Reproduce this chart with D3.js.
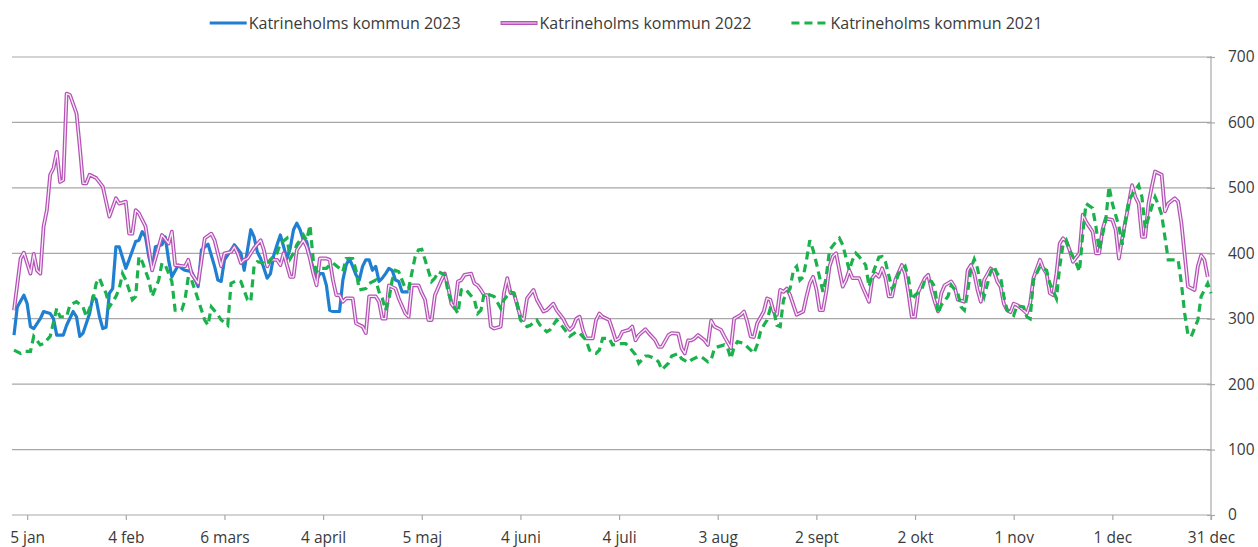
<!DOCTYPE html>
<html>
<head>
<meta charset="utf-8">
<script src="https://cdn.jsdelivr.net/npm/d3@7"></script>
<style>
  body { margin: 0; background: #fff; }
  text { font-family: "Open Sans", sans-serif; fill: #3a3a3a; }
</style>
</head>
<body>
<svg id="chart" width="1258" height="547"></svg>
<script>
// dag på året, antal
var kommun2023 = [[1,275],[2,318],[4,336],[5,323],[6,288],[7,285],[9,300],[10,311],[12,308],[13,300],[14,275],[16,275],[17,290],[19,311],[20,303],[21,273],[22,278],[24,308],[25,334],[26,329],[27,303],[28,285],[29,287],[30,339],[31,346],[32,410],[33,410],[35,377],[36,390],[38,418],[39,420],[40,433],[41,425],[42,395],[43,374],[44,410],[46,413],[47,425],[48,390],[49,364],[51,382],[52,377],[53,374],[55,372],[57,349],[58,405],[60,414],[62,380],[63,359],[64,357],[65,390],[67,405],[68,413],[70,400],[71,374],[72,405],[73,436],[74,425],[75,402],[76,392],[77,377],[78,362],[79,369],[80,397],[81,413],[82,428],[83,410],[84,392],[85,408],[86,436],[87,446],[88,436],[89,420],[90,418],[91,395],[93,359],[94,369],[95,369],[96,351],[97,313],[98,311],[100,311],[101,359],[102,382],[103,392],[104,380],[105,367],[106,359],[107,380],[108,390],[109,390],[110,374],[111,380],[112,357],[113,362],[114,369],[115,377],[116,374],[117,359],[118,357],[119,341],[121,341]];

var kommun2022 = [[1,313],[3,392],[4,401],[6,369],[7,399],[8,374],[9,369],[10,441],[11,466],[12,520],[13,530],[14,555],[15,509],[16,512],[17,644],[18,642],[20,614],[21,563],[22,507],[23,507],[24,520],[26,515],[28,502],[30,456],[32,484],[33,476],[35,479],[36,430],[37,430],[38,466],[39,461],[41,441],[43,374],[45,410],[46,428],[48,415],[49,433],[50,382],[53,380],[54,390],[55,369],[57,354],[59,423],[61,430],[62,420],[64,380],[65,400],[67,402],[68,410],[69,400],[70,385],[71,390],[72,392],[74,408],[76,420],[77,405],[78,380],[79,390],[81,390],[82,382],[83,400],[85,364],[86,364],[87,405],[89,420],[90,410],[91,392],[92,369],[93,351],[94,392],[96,392],[97,390],[98,359],[99,336],[100,336],[101,326],[102,331],[104,331],[105,293],[107,288],[108,278],[109,334],[111,334],[112,326],[113,300],[114,300],[115,351],[117,346],[118,331],[120,308],[121,303],[122,351],[124,351],[125,339],[126,329],[127,298],[128,298],[129,336],[131,359],[132,369],[133,349],[134,323],[135,316],[136,357],[137,359],[138,367],[140,369],[141,354],[142,351],[143,344],[144,336],[145,336],[146,288],[147,285],[149,288],[150,339],[151,362],[152,339],[153,339],[155,303],[156,298],[157,331],[159,344],[160,329],[162,311],[163,313],[165,323],[166,313],[168,300],[169,290],[170,283],[171,288],[172,300],[173,303],[174,283],[175,270],[177,270],[178,298],[179,308],[180,303],[182,298],[183,283],[184,267],[185,270],[186,280],[188,283],[189,288],[190,267],[191,275],[193,284],[194,278],[196,267],[197,257],[198,257],[200,275],[201,278],[203,277],[204,255],[205,247],[206,267],[207,267],[208,270],[209,275],[211,267],[212,260],[213,297],[214,288],[216,283],[217,273],[219,255],[220,300],[222,306],[223,311],[224,295],[225,273],[226,272],[227,293],[229,311],[230,331],[231,329],[232,311],[233,306],[234,344],[235,341],[236,346],[237,336],[239,306],[241,311],[242,334],[243,354],[244,364],[245,345],[246,313],[247,313],[248,341],[249,380],[250,395],[251,400],[252,374],[253,349],[254,359],[255,374],[256,362],[258,362],[259,349],[261,326],[262,362],[263,369],[264,364],[265,377],[266,362],[267,334],[268,334],[269,359],[271,382],[272,369],[273,339],[274,303],[275,303],[276,341],[278,362],[279,367],[280,344],[281,326],[282,311],[283,339],[284,351],[286,357],[287,349],[288,329],[290,326],[291,374],[292,382],[293,369],[294,344],[295,326],[296,359],[298,377],[299,372],[300,357],[301,349],[302,323],[303,313],[304,310],[305,323],[306,321],[308,313],[309,308],[310,323],[311,362],[313,390],[314,377],[315,369],[316,339],[317,336],[318,369],[319,415],[320,423],[321,418],[322,405],[323,387],[325,400],[326,459],[327,448],[329,433],[330,400],[331,400],[332,436],[333,453],[335,451],[336,436],[337,392],[338,423],[340,476],[341,504],[342,486],[343,476],[344,425],[345,425],[346,476],[347,502],[348,525],[350,520],[351,464],[352,476],[354,484],[355,479],[356,446],[358,349],[360,344],[361,380],[362,397],[363,390],[364,364]];

var kommun2021 = [[1,252],[3,247],[4,250],[6,250],[7,273],[9,260],[10,262],[12,273],[14,316],[15,303],[17,303],[18,321],[20,326],[22,318],[23,303],[25,329],[26,354],[27,362],[28,349],[29,339],[30,318],[32,334],[33,346],[34,369],[35,359],[37,329],[38,334],[39,395],[40,387],[42,359],[43,334],[45,359],[46,385],[47,382],[49,357],[50,313],[52,313],[53,329],[54,364],[55,359],[57,329],[59,298],[60,290],[61,318],[63,306],[64,298],[66,290],[67,354],[69,359],[70,357],[72,329],[73,326],[74,380],[75,387],[77,385],[78,382],[80,397],[81,400],[82,415],[84,423],[85,392],[86,400],[87,413],[89,428],[90,420],[91,443],[92,390],[93,372],[94,377],[96,377],[97,382],[98,385],[100,377],[101,372],[102,392],[104,392],[105,374],[106,344],[108,346],[109,354],[111,359],[112,341],[113,331],[114,313],[115,329],[116,359],[117,374],[118,372],[120,346],[121,346],[123,395],[124,405],[125,406],[126,390],[128,357],[129,362],[130,372],[132,367],[133,341],[134,326],[136,308],[137,344],[138,346],[139,341],[141,329],[142,308],[143,313],[144,339],[146,336],[147,334],[149,316],[150,329],[152,341],[153,339],[154,323],[155,298],[157,288],[158,290],[160,298],[161,290],[163,280],[164,283],[166,298],[167,293],[169,280],[170,273],[172,280],[173,278],[175,267],[176,252],[178,247],[179,252],[180,270],[182,270],[183,260],[185,262],[187,262],[188,257],[190,245],[191,232],[193,243],[194,243],[196,239],[197,234],[198,222],[200,232],[201,243],[203,247],[204,239],[206,233],[207,237],[209,242],[210,242],[212,234],[213,237],[214,255],[215,257],[217,260],[218,255],[219,239],[220,257],[221,265],[223,262],[224,257],[226,247],[227,260],[228,280],[229,290],[230,298],[231,316],[232,313],[233,290],[234,288],[235,329],[236,339],[237,346],[238,374],[239,380],[240,359],[241,364],[242,390],[243,420],[244,405],[245,385],[247,341],[248,364],[249,405],[251,418],[252,423],[253,413],[255,374],[256,390],[257,400],[258,395],[260,382],[261,349],[262,367],[264,394],[265,395],[266,387],[268,346],[269,354],[270,369],[272,380],[273,362],[274,329],[275,336],[277,344],[278,359],[280,357],[281,349],[282,308],[283,321],[285,334],[286,351],[288,339],[289,318],[290,313],[291,341],[292,377],[293,391],[294,377],[295,351],[296,334],[298,372],[299,380],[300,369],[301,364],[302,334],[303,313],[305,305],[306,320],[308,318],[309,303],[310,300],[311,359],[313,380],[315,374],[316,354],[318,331],[319,380],[320,413],[321,420],[322,405],[324,385],[325,372],[326,430],[327,476],[329,469],[330,441],[331,405],[333,451],[334,502],[335,476],[337,441],[338,413],[339,451],[340,481],[342,497],[343,504],[344,486],[345,438],[347,471],[348,486],[349,474],[350,459],[352,390],[354,390],[355,390],[356,354],[357,308],[358,275],[359,273],[361,298],[362,334],[364,354],[365,339]];

var seriesNames = ["Katrineholms kommun 2023", "Katrineholms kommun 2022", "Katrineholms kommun 2021"];
var tickDays = [5, 35, 65, 95, 125, 155, 185, 215, 245, 275, 305, 335, 365];
var tickLabels = ["5 jan", "4 feb", "6 mars", "4 april", "5 maj", "4 juni", "4 juli", "3 aug", "2 sept", "2 okt", "1 nov", "1 dec", "31 dec"];
var yTicks = [0, 100, 200, 300, 400, 500, 600, 700];

var blue = "#1f7fd1", purple = "#b552b5", green = "#1bb14c", gridColor = "#a8a8a8";

var plotLeft = 12, plotRight = 1211, plotTop = 57, plotBottom = 515;

var x = d3.scaleLinear().domain([1, 365]).range([14, 1211]);
var y = d3.scaleLinear().domain([0, 700]).range([plotBottom, plotTop]);

var svg = d3.select("#chart");

// stödlinjer
svg.append("g").selectAll("line")
    .data(yTicks)
    .enter().append("line")
    .attr("x1", plotLeft).attr("x2", plotRight)
    .attr("y1", function(d) { return y(d); })
    .attr("y2", function(d) { return y(d); })
    .attr("stroke", gridColor)
    .attr("stroke-width", 1.2);

// x-axel
var xAxis = svg.append("g")
    .attr("transform", "translate(0," + plotBottom + ")")
    .call(d3.axisBottom(x).tickValues(tickDays)
        .tickFormat(function(d, i) { return tickLabels[i]; })
        .tickSize(5).tickPadding(12));
xAxis.select(".domain").remove();
xAxis.selectAll("line").attr("stroke", gridColor).attr("stroke-width", 1.2);
xAxis.selectAll("text").style("font-size", "15.5px").attr("fill", "#3a3a3a");

// y-axel till höger
var yAxis = svg.append("g")
    .attr("transform", "translate(" + plotRight + ",0)")
    .call(d3.axisRight(y).tickValues(yTicks).tickSize(4).tickPadding(13));
yAxis.select(".domain").remove();
yAxis.selectAll("line").attr("x1", -4).attr("stroke", gridColor).attr("stroke-width", 1.2);
yAxis.selectAll("text").style("font-size", "15.5px").attr("fill", "#3a3a3a");
svg.append("line")
    .attr("x1", plotRight).attr("x2", plotRight)
    .attr("y1", plotTop - 1).attr("y2", plotBottom + 5)
    .attr("stroke", gridColor).attr("stroke-width", 1.2);

var line = d3.line()
    .x(function(d) { return x(d[0]); })
    .y(function(d) { return y(d[1]); });

svg.append("path").datum(kommun2023)
    .attr("d", line).attr("fill", "none")
    .attr("stroke", blue).attr("stroke-width", 3.2)
    .attr("stroke-linejoin", "round");

svg.append("path").datum(kommun2022)
    .attr("d", line).attr("fill", "none")
    .attr("stroke", purple).attr("stroke-width", 3.8)
    .attr("stroke-linejoin", "round");
svg.append("path").datum(kommun2022)
    .attr("d", line).attr("fill", "none")
    .attr("stroke", "#f8ecf8").attr("stroke-width", 1.3)
    .attr("stroke-linejoin", "round");

svg.append("path").datum(kommun2021)
    .attr("d", line).attr("fill", "none")
    .attr("stroke", green).attr("stroke-width", 3.2)
    .attr("stroke-dasharray", "8,5");

// förklaring
var legend = svg.append("g");
var lx = 0;
seriesNames.forEach(function(name, i) {
  var g = legend.append("g").attr("transform", "translate(" + lx + ",0)");
  if (i == 0) {
    g.append("line").attr("x1", 0).attr("x2", 37).attr("stroke", blue).attr("stroke-width", 3.2);
  } else if (i == 1) {
    g.append("line").attr("x1", 0).attr("x2", 37).attr("stroke", purple).attr("stroke-width", 3.8);
    g.append("line").attr("x1", 1).attr("x2", 36).attr("stroke", "#e3b3e3").attr("stroke-width", 1.3);
  } else {
    g.append("line").attr("x1", 0).attr("x2", 37).attr("stroke", green).attr("stroke-width", 3.2)
      .attr("stroke-dasharray", "8,5");
  }
  var t = g.append("text").attr("x", 39).attr("dy", "0.35em")
      .style("font-size", "16px").text(name);
  lx += 39 + t.node().getComputedTextLength() + 40;
});
var legendWidth = lx - 40;
legend.attr("transform", "translate(" + (626 - legendWidth / 2) + ",23)");
</script>
</body>
</html>
